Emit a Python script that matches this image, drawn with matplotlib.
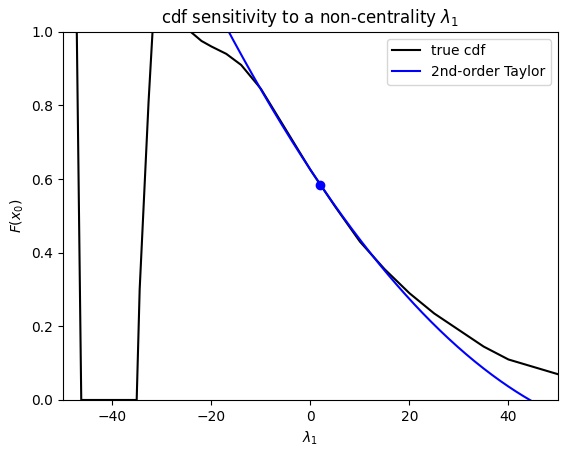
import numpy as np
import matplotlib
matplotlib.use('Agg')
import matplotlib.pyplot as plt

# true cdf
lam_true = [-48, -47.2, -46.3, -35.1, -34.5, -32.7, -31.9, -31, -28, -26, -24.2, -22, -20, -17,
            -14, -10, -5, 0, 2, 5, 10, 15, 20, 25, 30, 35, 40, 45, 50]
cdf_true = [1.5, 1.0, 0.0, 0.0, 0.3, 0.81, 1.0, 1.2, 1.2, 1.05, 1.0, 0.975, 0.96, 0.94,
            0.91, 0.845, 0.735, 0.625, 0.585, 0.525, 0.43, 0.355, 0.29, 0.235, 0.19, 0.145, 0.11, 0.09, 0.07]

# expansion point and Taylor coefficients
lam0 = 2.0
f0 = 0.585
f1 = -0.01981
f2 = 1.415e-4

lam = np.linspace(-50, 50, 400)
taylor = f0 + f1 * (lam - lam0) + f2 * (lam - lam0) ** 2

fig, ax = plt.subplots(figsize=(5.67, 4.54), dpi=100)
ax.plot(lam_true, cdf_true, 'k-', label='true cdf')
ax.plot(lam, taylor, 'b-', label='2nd-order Taylor')
ax.plot([lam0], [f0], 'bo')
ax.set_xlim(-50, 50)
ax.set_ylim(0, 1)
ax.set_xlabel(r'$\lambda_1$')
ax.set_ylabel(r'$F(x_0)$')
ax.set_title(r'cdf sensitivity to a non-centrality $\lambda_1$')
ax.legend(loc='upper right')
fig.subplots_adjust(left=0.111, right=0.984, top=0.93, bottom=0.119)
fig.savefig('out.png')
